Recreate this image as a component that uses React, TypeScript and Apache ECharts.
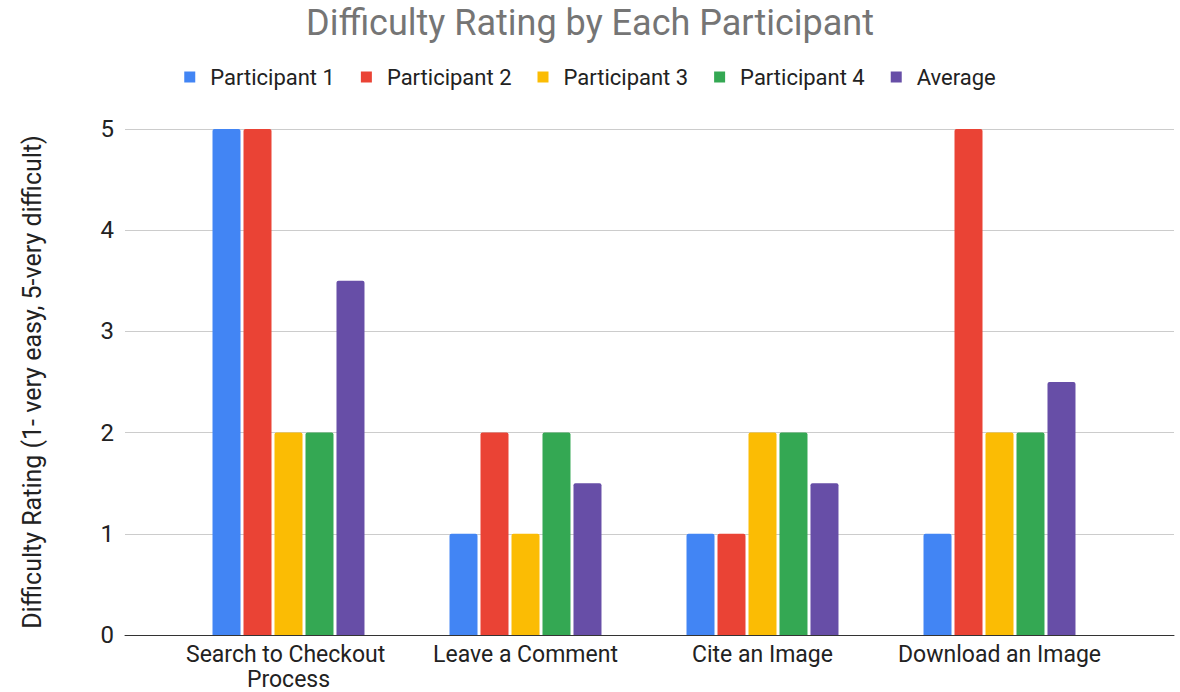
import React, { useEffect, useRef } from "react";
import * as echarts from "echarts";

const categories = ["Search to Checkout Process", "Leave a Comment", "Cite an Image", "Download an Image"];
const seriesNames = ["Participant 1", "Participant 2", "Participant 3", "Participant 4", "Average"];
const participant1 = [5, 1, 1, 1];
const participant2 = [5, 2, 1, 5];
const participant3 = [2, 1, 2, 2];
const participant4 = [2, 2, 2, 2];
const average = [3.5, 1.5, 1.5, 2.5];
const colors = ["#4285F4", "#EA4335", "#FBBC04", "#34A853", "#674EA7"];
const yTicks = [0, 1, 2, 3, 4, 5];

export default function App() {
  const ref = useRef<HTMLDivElement>(null);
  useEffect(() => {
    document.body.style.margin = "0";
    if (!ref.current) return;
    const chart = echarts.init(ref.current, null, { renderer: "svg" });
    const values = [participant1, participant2, participant3, participant4, average];
    const font = "Roboto, 'Liberation Sans', Arial, sans-serif";
    chart.setOption({
      animation: false,
      backgroundColor: "#ffffff",
      color: colors,
      textStyle: { fontFamily: font },
      title: {
        text: "Difficulty Rating by Each Participant",
        left: "center",
        top: 0,
        textStyle: { fontSize: 36, fontWeight: "normal", color: "#757575", fontFamily: font },
      },
      legend: {
        top: 61,
        left: "center",
        icon: "rect",
        itemWidth: 11,
        itemHeight: 11,
        itemGap: 26,
        data: seriesNames,
        textStyle: { fontSize: 22, color: "#222222", fontFamily: font, padding: [0, 0, 0, 10] },
      },
      grid: [
        { left: 125, right: 6, top: 129, bottom: 57, containLabel: false, outerBoundsMode: "none" },
        { left: 170, right: 62, top: 129, bottom: 57, containLabel: false, outerBoundsMode: "none" },
      ],
      xAxis: [
        {
          type: "category",
          gridIndex: 0,
          data: categories,
          axisLine: { show: true, lineStyle: { color: "#333333", width: 1 } },
          axisTick: { show: false },
          axisLabel: { show: false },
          splitLine: { show: false },
          z: 5,
        },
        {
          type: "category",
          gridIndex: 1,
          data: categories,
          axisLine: { show: false },
          axisTick: { show: false },
          axisLabel: {
            show: true,
            fontSize: 23,
            color: "#222222",
            fontFamily: font,
            margin: 7,
            width: 230,
            overflow: "break",
            lineHeight: 25,
            interval: 0,
          },
        },
      ],
      yAxis: [
        {
          type: "value",
          gridIndex: 0,
          min: yTicks[0],
          max: yTicks[yTicks.length - 1],
          interval: 1,
          name: "Difficulty Rating (1- very easy, 5-very difficult)",
          nameLocation: "middle",
          nameGap: 80,
          nameTextStyle: { fontSize: 25, color: "#222222", fontFamily: font },
          axisLine: { show: false },
          axisTick: { show: false },
          axisLabel: { fontSize: 24, color: "#222222", fontFamily: font, margin: 11 },
          splitLine: { show: true, lineStyle: { color: "#cccccc", width: 1 } },
        },
        {
          type: "value",
          gridIndex: 1,
          min: yTicks[0],
          max: yTicks[yTicks.length - 1],
          interval: 1,
          show: false,
          splitLine: { show: false },
        },
      ],
      series: seriesNames.map((name, i) => ({
        name,
        type: "bar",
        xAxisIndex: 1,
        yAxisIndex: 1,
        data: values[i],
        barWidth: 28,
        barGap: "10.7%",
        itemStyle: { color: colors[i], borderRadius: [2, 2, 0, 0] },
      })),
    });
    return () => chart.dispose();
  }, []);
  return <div ref={ref} style={{ width: 1180, height: 692 }} />;
}
